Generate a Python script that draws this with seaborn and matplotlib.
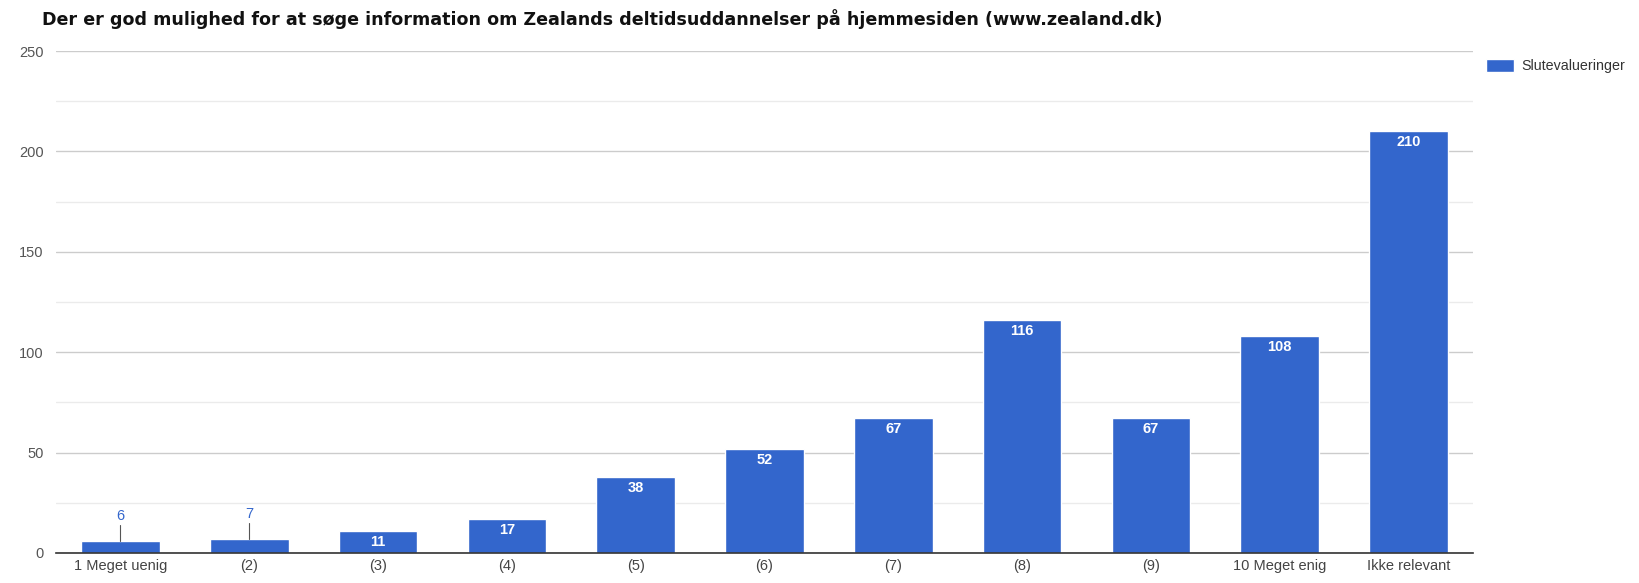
import pandas as pd
import matplotlib.pyplot as plt
import seaborn as sns

# data
kategorier = ['1 Meget uenig', '(2)', '(3)', '(4)', '(5)', '(6)', '(7)', '(8)', '(9)',
              '10 Meget enig', 'Ikke relevant']
antal = [6, 7, 11, 17, 38, 52, 67, 116, 67, 108, 210]
serie = 'Slutevalueringer'

df = pd.DataFrame({'kategori': kategorier, 'antal': antal, 'serie': serie})

sns.set_style('white')
plt.rcParams['font.family'] = ['Liberation Sans', 'DejaVu Sans']

blaa = '#3366CC'
fig = plt.figure(figsize=(16.39, 5.83), dpi=100)
ax = fig.add_axes([0.0342, 0.0515, 0.8645, 0.861])

sns.barplot(data=df, x='kategori', y='antal', hue='serie', palette=[blaa],
            width=0.61, ax=ax, legend=True, saturation=1)

ax.set_ylim(0, 250)
ax.set_xlim(-0.5, len(kategorier) - 0.5)
ax.set_yticks([0, 50, 100, 150, 200, 250])
ax.set_yticks([25, 75, 125, 175, 225], minor=True)
ax.grid(axis='y', which='major', color='#cccccc', lw=1)
ax.grid(axis='y', which='minor', color='#ebebeb', lw=1)
ax.set_axisbelow(True)
for s in ['top', 'right', 'left']:
    ax.spines[s].set_visible(False)
ax.spines['bottom'].set_color('#333333')
ax.spines['bottom'].set_linewidth(1.2)
ax.tick_params(axis='both', length=0, labelsize=10.5, labelcolor='#444444')
ax.tick_params(axis='y', pad=9, labelcolor='#555555')
ax.tick_params(axis='x', pad=4)
ax.set_xlabel('')
ax.set_ylabel('')

# værdier på søjlerne
for i, v in enumerate(antal):
    if v >= 10:
        ax.text(i, v - 2, str(v), ha='center', va='top', color='white',
                fontsize=10.5, fontweight='bold')
    else:
        ax.plot([i, i], [v, v + 8], color='#555555', lw=0.8)
        ax.text(i, v + 9, str(v), ha='center', va='bottom', color=blaa, fontsize=10.5)

fig.text(0.0256, 0.967, 'Der er god mulighed for at søge information om Zealands '
         'deltidsuddannelser på hjemmesiden (www.zealand.dk)',
         fontsize=12.6, fontweight='bold', color='#111111', va='center',
         family=['DejaVu Sans'])

leg = ax.legend(loc='upper left', bbox_to_anchor=(1.0, 1.01), frameon=False,
                fontsize=10.3, handlelength=2.0, handleheight=1.05, handletextpad=0.5)
for t in leg.get_texts():
    t.set_color('#333333')

plt.savefig('out.png', dpi=100)
